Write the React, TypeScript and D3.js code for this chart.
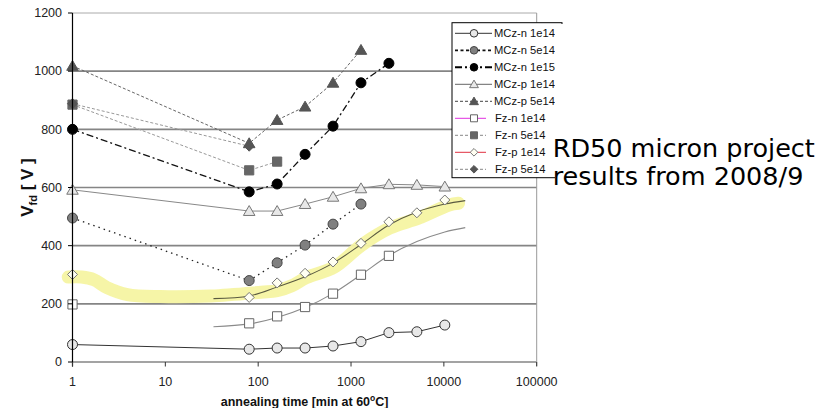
import React from "react";
import * as d3 from "d3";

// ---- data ----
const times = [1, 80, 160, 320, 640, 1280, 2560, 5120, 10240];
const seriesNames = [
  "MCz-n 1e14",
  "MCz-n 5e14",
  "MCz-n 1e15",
  "MCz-p 1e14",
  "MCz-p 5e14",
  "Fz-n 1e14",
  "Fz-n 5e14",
  "Fz-p 1e14",
  "Fz-p 5e14",
];
const mczN1e14 = [60, 44, 48, 48, 55, 70, 101, 104, 127];
const mczN5e14 = [495, 280, 341, 402, 474, 543, null, null, null];
const mczN1e15 = [800, 585, 612, 714, 811, 960, 1027, null, null];
const mczP1e14 = [592, 519, 519, 543, 568, 597, 611, 609, 603];
const mczP5e14 = [1018, 752, 832, 878, 960, 1073, null, null, null];
const fzN1e14 = [198, 133, 157, 189, 235, 300, 365, null, null];
const fzN5e14 = [885, 659, 689, null, null, null, null, null, null];
const fzP1e14 = [301, 222, 272, 305, 344, 408, 482, 513, 557];
const fzP5e14 = [888, 742, null, null, null, null, null, null, null];

const fitTime = [33, 80, 160, 320, 640, 1280, 2560, 5120, 10240, 17000];
const fitFzN1e14 = [121, 131, 153, 187, 236, 300, 366, 414, 447, 462];
const fitFzP1e14 = [218, 227, 258, 293, 340, 404, 471, 516, 543, 555];

const bandTime = [0.9, 1.25, 1.7, 2.35, 3.9, 8.9, 31, 108, 160, 230, 330, 660, 1300, 2600, 5400, 11400, 14400];
const bandVolt = [292, 292, 283, 256, 232, 225, 227, 240, 245, 262, 290, 326, 402, 460, 495, 540, 546];

const yTickValues = [0, 200, 400, 600, 800, 1000, 1200];
const xTickValues = [1, 10, 100, 1000, 10000, 100000];
const xTickLabels = ["1", "10", "100", "1000", "10000", "100000"];

// ---- styles ----
type Style = {
  shape: string;
  fill: string;
  mstroke: string;
  line: string | null;
  lw: number;
  dash: string | null;
  legLine: string;
  legLw: number;
  legDash: string | null;
};
const styles: Style[] = [
  { shape: "circle", fill: "#e8e8e8", mstroke: "#333", line: "#333", lw: 1, dash: null, legLine: "#333", legLw: 1, legDash: null },
  { shape: "circle", fill: "#808080", mstroke: "#444", line: "#222", lw: 1.3, dash: "1.5,4", legLine: "#111", legLw: 1.8, legDash: "3,2.5" },
  { shape: "circle", fill: "#000", mstroke: "#000", line: "#111", lw: 1.3, dash: "7,3,2,3", legLine: "#000", legLw: 2, legDash: "7,3,2,3" },
  { shape: "triangle", fill: "#e8e8e8", mstroke: "#777", line: "#888", lw: 1, dash: null, legLine: "#666", legLw: 1, legDash: null },
  { shape: "triangle", fill: "#555", mstroke: "#555", line: "#666", lw: 1, dash: "3,2", legLine: "#444", legLw: 1, legDash: "3,2" },
  { shape: "square", fill: "#fff", mstroke: "#666", line: null, lw: 1, dash: null, legLine: "#e030e0", legLw: 1, legDash: null },
  { shape: "square", fill: "#666", mstroke: "#666", line: "#999", lw: 1, dash: "3,2", legLine: "#888", legLw: 1, legDash: "3,2" },
  { shape: "diamond", fill: "#fffff2", mstroke: "#777", line: null, lw: 1, dash: null, legLine: "#e03040", legLw: 1, legDash: null },
  { shape: "diamond", fill: "#555", mstroke: "#555", line: "#999", lw: 1, dash: "3,2", legLine: "#888", legLw: 1, legDash: "3,2" },
];
const allSeries = [mczN1e14, mczN5e14, mczN1e15, mczP1e14, mczP5e14, fzN1e14, fzN5e14, fzP1e14, fzP5e14];

function markerPath(shape: string, cx: number, cy: number, s: number) {
  switch (shape) {
    case "circle":
      return `M${cx - s},${cy}a${s},${s} 0 1,0 ${2 * s},0a${s},${s} 0 1,0 ${-2 * s},0Z`;
    case "triangle":
      return `M${cx},${cy - s * 1.0}L${cx + s * 1.05},${cy + s * 0.8}L${cx - s * 1.05},${cy + s * 0.8}Z`;
    case "square": {
      const h = s * 0.92;
      return `M${cx - h},${cy - h}H${cx + h}V${cy + h}H${cx - h}Z`;
    }
    default:
      return `M${cx},${cy - s}L${cx + s},${cy}L${cx},${cy + s}L${cx - s},${cy}Z`;
  }
}

export default function App() {
  const W = 832;
  const H = 408;
  const x = d3.scaleLog().domain([1, 100000]).range([72.5, 536.7]);
  const y = d3.scaleLinear().domain([0, 1200]).range([362, 13]);
  const font = "'Liberation Sans', Arial, Helvetica, sans-serif";

  const lineGen = d3
    .line<[number, number | null]>()
    .defined((d) => d[1] !== null)
    .x((d) => x(d[0]))
    .y((d) => y(d[1] as number));

  const smooth = d3
    .line<[number, number]>()
    .x((d) => x(d[0]))
    .y((d) => y(d[1]))
    .curve(d3.curveCatmullRom.alpha(0.5));

  const bandPts: [number, number][] = bandTime.map((t, i) => [t, bandVolt[i]]);
  const fitN: [number, number][] = fitTime.map((t, i) => [t, fitFzN1e14[i]]);
  const fitP: [number, number][] = fitTime.map((t, i) => [t, fitFzP1e14[i]]);

  const legX0 = 452;
  const legY0 = 22.7;
  const rowY = (i: number) => 33.3 + i * 17;

  return (
    <svg width={W} height={H} style={{ display: "block", position: "absolute", left: 0, top: 0 }} fontFamily={font}>
      <rect x={0} y={0} width={W} height={H} fill="#fff" />
      {/* grid lines */}
      {yTickValues.map((v) => (
        <line
          key={"g" + v}
          x1={x(1)}
          x2={x(100000)}
          y1={y(v)}
          y2={y(v)}
          stroke={v === 1200 ? "#aaa" : "#858585"}
          strokeWidth={v === 1200 ? 1 : 1.6}
        />
      ))}
      <line x1={x(100000)} x2={x(100000)} y1={y(1200)} y2={y(0) + 4} stroke="#999" strokeWidth={1} />
      {/* yellow highlight band */}
      <path d={smooth(bandPts) || ""} fill="none" stroke="#f6f4a2" strokeOpacity={0.95} strokeWidth={13} strokeLinecap="round" strokeLinejoin="round" />
      {/* fit curves */}
      <path d={smooth(fitN) || ""} fill="none" stroke="#8a8a8a" strokeWidth={1.1} />
      <path d={smooth(fitP) || ""} fill="none" stroke="#5a5a40" strokeWidth={1.1} />
      {/* series lines */}
      {allSeries.map((vals, si) => {
        const st = styles[si];
        if (!st.line) return null;
        const pts: [number, number | null][] = times.map((t, i) => [t, vals[i]]);
        return (
          <path
            key={"l" + si}
            d={lineGen(pts) || ""}
            fill="none"
            stroke={st.line}
            strokeWidth={st.lw}
            strokeDasharray={st.dash || undefined}
          />
        );
      })}
      {/* markers */}
      {allSeries.map((vals, si) => {
        const st = styles[si];
        return (
          <g key={"m" + si}>
            {times.map((t, i) =>
              vals[i] === null ? null : (
                <path
                  key={i}
                  d={markerPath(st.shape, x(t), y(vals[i] as number), st.shape === "triangle" ? 5.5 : 5)}
                  fill={st.fill}
                  stroke={st.mstroke}
                  strokeWidth={1}
                />
              )
            )}
          </g>
        );
      })}
      {/* y axis */}
      <line x1={x(1)} x2={x(1)} y1={y(1200)} y2={y(0) + 4.5} stroke="#000" strokeWidth={1.2} />
      {yTickValues.map((v) => (
        <g key={"yt" + v}>
          <line x1={x(1) - 4.5} x2={x(1)} y1={y(v)} y2={y(v)} stroke="#000" strokeWidth={1} />
          <text x={62} y={y(v) + 4.3} textAnchor="end" fontSize={12.5} fill="#222">
            {v}
          </text>
        </g>
      ))}
      {/* x ticks */}
      {xTickValues.map((v, i) => (
        <g key={"xt" + v}>
          <line x1={x(v)} x2={x(v)} y1={y(0)} y2={y(0) + 4.5} stroke="#333" strokeWidth={1} />
          <text x={x(v)} y={386} textAnchor="middle" fontSize={12.5} fill="#222">
            {xTickLabels[i]}
          </text>
        </g>
      ))}
      {/* axis titles */}
      <text x={(x(1) + x(100000)) / 2} y={405.5} textAnchor="middle" fontSize={12.5} fontWeight="bold" fill="#111">
        annealing time [min at 60
        <tspan dy={-5} fontSize={8.5}>o</tspan>
        <tspan dy={5}>C]</tspan>
      </text>
      <text transform={`translate(33,${(y(0) + y(1200)) / 2}) rotate(-90)`} textAnchor="middle" fontSize={17} fontWeight="bold" fill="#111">
        V<tspan dy={4} fontSize={11}>fd</tspan>
        <tspan dy={-4}> [ V ]</tspan>
      </text>
      {/* legend */}
      <rect x={legX0} y={legY0} width={110} height={155} fill="#fff" stroke="#000" strokeWidth={1} />
      {seriesNames.map((name, i) => {
        const st = styles[i];
        const cy = rowY(i);
        const isFz = name.startsWith("Fz");
        return (
          <g key={"lg" + i}>
            <line
              x1={455}
              x2={isFz ? 486 : 492}
              y1={cy}
              y2={cy}
              stroke={st.legLine}
              strokeWidth={st.legLw}
              strokeDasharray={st.legDash || undefined}
            />
            <path d={markerPath(st.shape, 474, cy, st.shape === "triangle" ? 4.2 : 3.8)} fill={st.fill} stroke={st.mstroke} strokeWidth={1} />
            <text x={isFz ? 495 : 494} y={cy + 4} fontSize={11.2} fill="#111">
              {name}
            </text>
          </g>
        );
      })}
      {/* overlay text box */}
      <rect x={555} y={24} width={277} height={200} fill="#fff" />
      <text x={552.7} y={156.5} fontSize={25.5} fontFamily="'DejaVu Sans', sans-serif" fill="#000">
        RD50 micron project
      </text>
      <text x={552.7} y={185} fontSize={25.5} fontFamily="'DejaVu Sans', sans-serif" fill="#000">
        results from 2008/9
      </text>
    </svg>
  );
}
